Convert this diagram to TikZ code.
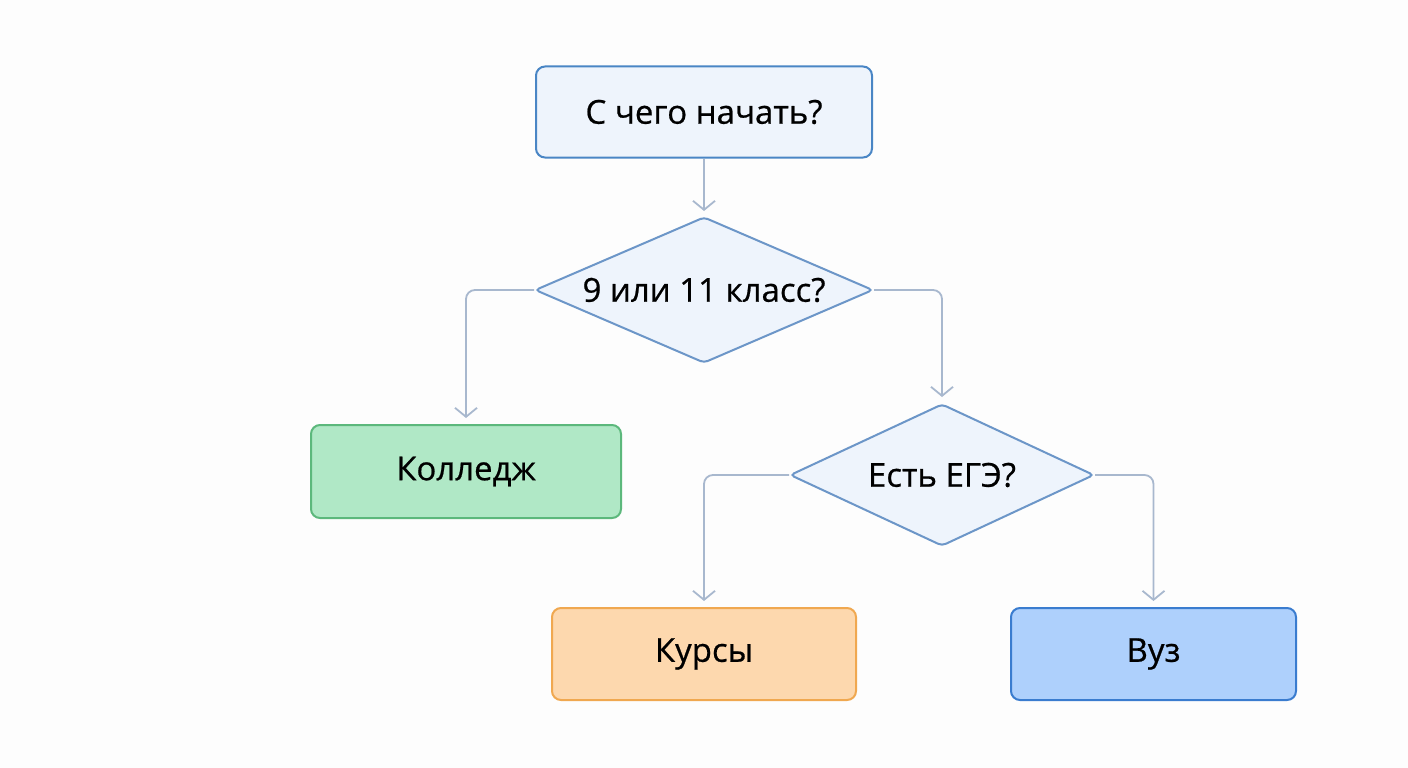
\documentclass[tikz,border=0pt]{standalone}
\usepackage{fontspec}
\setmainfont{Open Sans}
\usetikzlibrary{shapes.geometric,arrows.meta}
\definecolor{bgpage}{RGB}{253,253,253}
\definecolor{startfill}{RGB}{238,244,252}
\definecolor{startline}{RGB}{74,134,197}
\definecolor{askline}{RGB}{108,150,200}
\definecolor{connline}{RGB}{168,184,206}
\definecolor{greenfill}{RGB}{176,232,198}
\definecolor{greenline}{RGB}{92,184,124}
\definecolor{orangefill}{RGB}{253,216,174}
\definecolor{orangeline}{RGB}{240,168,80}
\definecolor{bluefill}{RGB}{174,208,252}
\definecolor{blueline}{RGB}{58,124,207}
\newcommand{\labelfont}{\fontsize{33}{40}\selectfont\addfontfeature{FakeBold = 0.6}}
\begin{document}
\begin{tikzpicture}[x = 1pt, y = -1pt,
	box/.style = {draw, line width = 2pt, rounded corners = 9pt, minimum width = 336pt, minimum height = 91pt, font = \labelfont},
	ask/.style = {diamond, draw = askline, fill = startfill, line width = 2pt, rounded corners = 4pt, inner sep = 0pt, aspect = 2.3, font = \labelfont},
	conn/.style = {draw = connline, line width = 1.8pt, rounded corners = 9pt, -{Straight Barb[length = 9pt, width = 22pt, line width = 1.8pt]}, shorten > = 6pt}]
	\fill [bgpage] (0,0) rectangle (1408,768);
	\useasboundingbox (0,0) rectangle (1408,768);
	\node [box, draw = startline, fill = startfill] (start) at (704,112) {С чего начать?};
	\node [ask, minimum width = 338pt, minimum height = 146pt] (grade) at (704,290) {9 или 11 класс?};
	\node [box, draw = greenline, fill = greenfill, minimum width = 310pt, minimum height = 93pt] (college) at (466,471.5) {Колледж};
	\node [ask, minimum width = 304pt, minimum height = 142pt, aspect = 2.14] (exam) at (942,475) {Есть ЕГЭ?};
	\node [box, draw = orangeline, fill = orangefill, minimum width = 304pt, minimum height = 92pt] (courses) at (704,654) {Курсы};
	\node [box, draw = blueline, fill = bluefill, minimum width = 285pt, minimum height = 92pt] (uni) at (1153.5,654) {Вуз};
	\draw [conn, shorten > = 5pt] (start) -- (grade);
	\draw [conn] (grade.west) -| (college.north);
	\draw [conn] (grade.east) -| (exam.north);
	\draw [conn] (exam.west) -| (courses.north);
	\draw [conn] (exam.east) -| (uni.north);
\end{tikzpicture}
\end{document}
